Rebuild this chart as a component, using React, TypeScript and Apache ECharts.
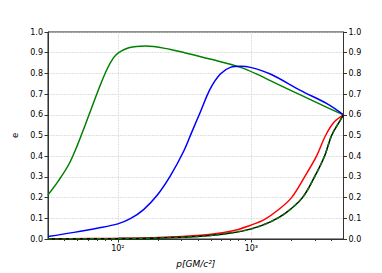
import React, { useEffect, useRef } from "react";
import * as echarts from "echarts";

// p values (GM/c^2) and eccentricities
const P_GREEN = [30, 36, 43, 50, 57, 62.5, 72, 83, 93, 101.6, 121, 161, 248, 317, 500, 828, 1167, 1387, 2330, 3680, 4900];
const E_GREEN = [0.213, 0.282, 0.361, 0.456, 0.551, 0.62, 0.725, 0.82, 0.876, 0.9, 0.924, 0.932, 0.916, 0.9, 0.868, 0.829, 0.789, 0.765, 0.696, 0.636, 0.6];

const P_BLUE = [30, 47, 70, 100, 124, 156, 197, 248, 312, 360, 416, 493, 586, 697, 828, 984, 1387, 2328, 3681, 4900];
const E_BLUE = [0.012, 0.032, 0.052, 0.073, 0.098, 0.142, 0.211, 0.306, 0.425, 0.52, 0.615, 0.726, 0.797, 0.829, 0.834, 0.829, 0.797, 0.718, 0.654, 0.6];

const P_RED = [30, 100, 176, 417, 698, 1000, 1259, 1585, 2000, 2506, 3076, 3597, 4169, 4900];
const E_RED = [0.0005, 0.003, 0.006, 0.018, 0.037, 0.068, 0.095, 0.14, 0.2, 0.3, 0.4, 0.5, 0.565, 0.6];

const P_BLACK = [30, 100, 176, 417, 698, 1000, 1390, 1803, 2415, 2972, 3532, 3990, 4500, 4900];
const E_BLACK = [0.0003, 0.002, 0.004, 0.013, 0.029, 0.049, 0.083, 0.125, 0.2, 0.3, 0.4, 0.5, 0.56, 0.6];

const X_MIN = 30;
const X_MAX = 4900;
const MAJOR_TICKS = [100, 1000];
const MAJOR_LABELS: Record<string, string> = { "2": "10²", "3": "10³" };
const MINOR_TICKS = [40, 50, 60, 70, 80, 90, 200, 300, 400, 500, 600, 700, 800, 900, 2000, 3000, 4000];

const lg = (v: number) => Math.log10(v);
const toData = (ps: number[], es: number[]) => ps.map((p, i) => [lg(p), es[i]]);

export default function App() {
  const ref = useRef<HTMLDivElement>(null);
  useEffect(() => {
    if (!ref.current) return;
    const chart = echarts.init(ref.current, null, { renderer: "svg" });
    const font = "DejaVu Sans";
    const lineSeries = (data: number[][], color: string, dashed = false) => ({
      type: "line",
      data,
      xAxisIndex: 0,
      yAxisIndex: 0,
      showSymbol: false,
      smooth: 0.35,
      lineStyle: { color, width: 1.5, type: dashed ? [4, 3] : "solid" },
      z: 3,
    });
    const yCommon = {
      type: "value",
      min: 0,
      max: 1,
      interval: 0.1,
      axisLine: { show: true, lineStyle: { color: "#333", width: 1 } },
      axisTick: { show: true, length: 3.5, lineStyle: { color: "#333" } },
      axisLabel: {
        margin: 5,
        color: "#000",
        fontFamily: font,
        fontSize: 8,
        formatter: (v: number) => v.toFixed(1),
      },
    };
    chart.setOption({
      animation: false,
      grid: {
        left: 48,
        right: 38.5,
        top: 32,
        bottom: 30.3,
        containLabel: false,
        show: true,
        borderColor: "#222",
        borderWidth: 1,
        backgroundColor: "transparent",
      },
      xAxis: [
        {
          type: "value",
          min: lg(X_MIN),
          max: lg(X_MAX),
          position: "bottom",
          axisLine: { show: true, lineStyle: { color: "#333", width: 1 } },
          axisTick: {
            show: true,
            length: 3.5,
            customValues: MAJOR_TICKS.map(lg),
            lineStyle: { color: "#333" },
          },
          axisLabel: {
            customValues: MAJOR_TICKS.map(lg),
            margin: 5,
            color: "#000",
            fontFamily: font,
            fontSize: 8,
            formatter: (v: number) => MAJOR_LABELS[String(Math.round(v))] || "",
          },
          splitLine: { show: true, lineStyle: { color: "#c8c8c8", type: "dotted", width: 0.8 } },
          name: "p[GM/c²]",
          nameLocation: "middle",
          nameGap: 20,
          nameTextStyle: { fontFamily: font, fontSize: 9, fontStyle: "italic", color: "#000" },
        },
        {
          type: "value",
          min: lg(X_MIN),
          max: lg(X_MAX),
          position: "bottom",
          axisLine: { show: false },
          axisTick: {
            show: true,
            length: 2,
            customValues: MINOR_TICKS.map(lg),
            lineStyle: { color: "#333" },
          },
          axisLabel: { show: false },
          splitLine: { show: false },
        },
      ],
      yAxis: [
        {
          ...yCommon,
          position: "left",
          splitLine: { show: true, lineStyle: { color: "#c8c8c8", type: "dotted", width: 0.8 } },
          name: "e",
          nameLocation: "middle",
          nameGap: 26,
          nameRotate: 90,
          nameTextStyle: { fontFamily: font, fontSize: 8.5, color: "#000" },
        },
        {
          ...yCommon,
          position: "right",
          splitLine: { show: false },
        },
      ],
      series: [
        lineSeries(toData(P_GREEN, E_GREEN), "#008000"),
        lineSeries(toData(P_BLUE, E_BLUE), "#0000ff"),
        lineSeries(toData(P_RED, E_RED), "#ff0000"),
        lineSeries(toData(P_BLACK, E_BLACK), "#000000"),
        lineSeries(toData(P_BLACK, E_BLACK), "#008000", true),
      ],
    });
    return () => chart.dispose();
  }, []);
  return <div ref={ref} style={{ width: 382, height: 273, position: "absolute", left: 0, top: 0 }} />;
}
